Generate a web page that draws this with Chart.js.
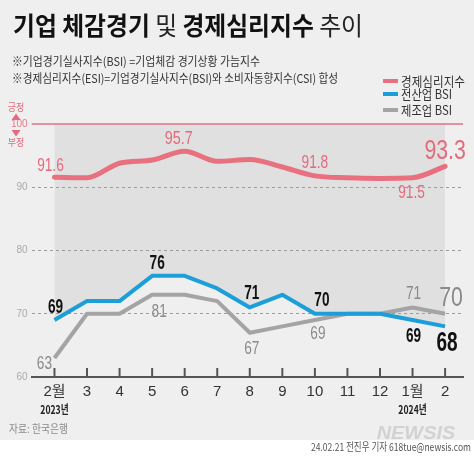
<!DOCTYPE html>
<html><head><meta charset="utf-8">
<script src="https://cdn.jsdelivr.net/npm/chart.js@4.4.1/dist/chart.umd.min.js"></script>
<style>
html,body{margin:0;padding:0;}
body{width:474px;height:456px;overflow:hidden;background:linear-gradient(#efefef 0,#efefef 440px,#ffffff 440px);}
#wrap{position:relative;width:474px;height:456px;}
canvas{display:block;}
</style></head><body>
<div id="wrap"><canvas id="c" width="474" height="456" style="width:474px;height:456px"></canvas></div>
<script>
// ---- data ----
const categories = ['2월','3','4','5','6','7','8','9','10','11','12','1월','2'];
const yearLabels = ['2023년','','','','','','','','','','','2024년',''];
const esi    = [91.6,91.5,93.8,94.3,95.7,94.1,94.4,93.2,91.8,91.5,91.4,91.5,93.3];
const allBsi = [69,72,72,76,76,74,71,73,70,70,70,69,68];
const mfgBsi = [63,70,70,73,73,72,67,68,69,70,70,71,70];
const esiLabels = ['91.6',null,null,null,'95.7',null,null,null,'91.8',null,null,'91.5','93.3'];
const allLabels = ['69',null,null,'76',null,null,'71',null,'70',null,null,'69','68'];
const mfgLabels = ['63',null,null,'81',null,null,'67',null,'69',null,null,'71','70'];
const yTicks = [60,70,80,90,100];
const seriesNames = ['경제심리지수','전산업 BSI','제조업 BSI'];

// ---- styles ----
const NUM = "'Liberation Sans',Arial,sans-serif";
const KR = "'Noto Sans CJK KR',sans-serif";
const TICKF = "'Liberation Sans','Noto Sans CJK KR',sans-serif";
const PINK = '#e8707f', BLUE = '#1c9fd9', GRAY = '#a4a4a4';
// per-label [dx, dy, fontSize]
const labelStyle = [
  {color:'#e46b7d', weight:'normal', sx:0.76, pos:{0:[-4,-11,18],4:[-6,-12,19],8:[0,-13,18],11:[-1,15,18],12:[0,-15,28]}},
  {color:'#111111', weight:'bold',   sx:0.68, pos:{0:[1,-13,20],3:[5,-12,20],6:[2,-14,20],8:[7,-13,20],11:[1,16,20],12:[2,17,28]}},
  {color:'#8a8a8a', weight:'normal', sx:0.76, pos:{0:[-10,6,18],3:[7,17,18],6:[2,16,18],8:[3,14,18],11:[1,-13,18],12:[6,-15,28]}}
];
const labelTexts = [esiLabels, allLabels, mfgLabels];

function txt(ctx, s, x, y, font, color, align, sx) {
  ctx.save();
  ctx.font = font; ctx.fillStyle = color; ctx.textBaseline = 'middle';
  ctx.textAlign = align || 'left';
  ctx.translate(x, y); ctx.scale(sx || 1, 1);
  ctx.fillText(s, 0, 0);
  ctx.restore();
}
function fitTxt(ctx, s, x, y, font, color, width) {
  ctx.save(); ctx.font = font; const w = ctx.measureText(s).width; ctx.restore();
  txt(ctx, s, x, y, font, color, 'left', width / w);
}

const decor = {
  id: 'decor',
  beforeDatasetsDraw(chart) {
    const ctx = chart.ctx, y = chart.scales.y, a = chart.chartArea;
    const py = y.getPixelForValue(100);
    ctx.save(); ctx.strokeStyle = PINK; ctx.lineWidth = 1.5;
    ctx.beginPath(); ctx.moveTo(a.left, py); ctx.lineTo(a.right, py); ctx.stroke();
    const x = chart.scales.x;
    ctx.strokeStyle = '#555'; ctx.lineWidth = 2;
    categories.forEach((c, i) => {
      const px = x.getPixelForValue(i);
      ctx.beginPath(); ctx.moveTo(px, a.bottom); ctx.lineTo(px, a.bottom - 9); ctx.stroke();
    });
    ctx.restore();
  },
  afterDatasetsDraw(chart) {
    const ctx = chart.ctx;
    labelTexts.forEach((arr, di) => {
      const meta = chart.getDatasetMeta(di), st = labelStyle[di];
      arr.forEach((s, i) => {
        if (!s) return;
        const p = st.pos[i] || [0, -12, 18];
        const pt = meta.data[i];
        txt(ctx, s, pt.x + p[0], pt.y + p[1], st.weight + ' ' + p[2] + 'px ' + NUM, st.color, 'center', st.sx);
      });
    });
  },
  afterDraw(chart) {
    const ctx = chart.ctx, x = chart.scales.x;
    const parts = [['기업 체감경기 ', 'bold'], ['및 ', 'normal'], ['경제심리지수 ', 'bold'], ['추이', 'normal']];
    ctx.save();
    let total = 0;
    parts.forEach(p => { ctx.font = p[1] + ' 25px ' + KR; total += ctx.measureText(p[0]).width; });
    ctx.restore();
    const sx = 350 / total;
    let cx = 13;
    parts.forEach(p => {
      ctx.save(); ctx.font = p[1] + ' 25px ' + KR; const w = ctx.measureText(p[0]).width; ctx.restore();
      txt(ctx, p[0], cx, 25, p[1] + ' 25px ' + KR, p[1] === 'bold' ? '#111' : '#222', 'left', sx);
      cx += w * sx;
    });
    fitTxt(ctx, '※기업경기실사지수(BSI) =기업체감 경기상황 가늠지수', 12, 61, '12px ' + KR, '#333', 248);
    fitTxt(ctx, '※경제심리지수(ESI)=기업경기실사지수(BSI)와 소비자동향지수(CSI) 합성', 12, 78, '12px ' + KR, '#333', 326);
    const cols = [PINK, BLUE, GRAY], ly = [81, 94, 110];
    seriesNames.forEach((n, i) => {
      ctx.save(); ctx.strokeStyle = cols[i]; ctx.lineWidth = 4; ctx.lineCap = 'butt';
      ctx.beginPath(); ctx.moveTo(383, ly[i]); ctx.lineTo(398, ly[i]); ctx.stroke(); ctx.restore();
      fitTxt(ctx, n, 401, ly[i], '13px ' + KR, '#333', i === 0 ? 64 : 51);
    });
    txt(ctx, '긍정', 16, 107, '10px ' + KR, '#e46b7d', 'center', 0.9);
    txt(ctx, '▲', 16, 117, '8px ' + KR, '#e46b7d', 'center', 1.2);
    txt(ctx, '▼', 16, 133, '8px ' + KR, '#e46b7d', 'center', 1.2);
    txt(ctx, '부정', 16, 142, '10px ' + KR, '#e46b7d', 'center', 0.9);
    yearLabels.forEach((s, i) => {
      if (!s) return;
      txt(ctx, s, x.getPixelForValue(i), 409, 'bold 12px ' + KR, '#222', 'center', 0.72);
    });
    fitTxt(ctx, '자료: 한국은행', 9, 429, '11px ' + KR, '#8a8a8a', 59);
    txt(ctx, 'NEWSIS', 416, 434, 'italic bold 19px ' + NUM, 'rgba(200,200,200,0.75)', 'center', 1.05);
    fitTxt(ctx, '24.02.21 전진우 기자 618tue@newsis.com', 311, 447, '11px ' + KR, '#555', 160);
  }
};

const toXY = arr => arr.map((v, i) => ({x: i, y: v}));

new Chart(document.getElementById('c'), {
  type: 'line',
  data: {
    datasets: [
      {label: seriesNames[0], data: toXY(esi), borderColor: PINK, borderWidth: 5, pointRadius: 0,
       cubicInterpolationMode: 'monotone', tension: 0.3, fill: false, borderJoinStyle: 'round', borderCapStyle: 'round'},
      {label: seriesNames[1], data: toXY(allBsi), borderColor: BLUE, borderWidth: 4, pointRadius: 0,
       fill: {value: 100}, backgroundColor: '#e0e0e0', borderJoinStyle: 'round'},
      {label: seriesNames[2], data: toXY(mfgBsi), borderColor: GRAY, borderWidth: 4, pointRadius: 0,
       fill: false, borderJoinStyle: 'round'}
    ]
  },
  options: {
    responsive: false, animation: false, devicePixelRatio: 1,
    layout: {padding: {left: 7, right: 11, top: 124, bottom: 49}},
    plugins: {legend: {display: false}, tooltip: {enabled: false}, filler: {drawTime: 'beforeDraw'}},
    scales: {
      x: {
        type: 'linear', min: -0.7, max: 12.55,
        afterBuildTicks: s => { s.ticks = categories.map((c, i) => ({value: i})); },
        ticks: {callback: v => categories[v], font: {family: TICKF, size: 15}, color: '#333', padding: 6, maxRotation: 0, autoSkip: false},
        grid: {display: true, drawOnChartArea: false, drawTicks: false},
        border: {display: true, color: '#555', width: 2}
      },
      y: {
        min: 60, max: 100,
        afterBuildTicks: s => { s.ticks = yTicks.map(v => ({value: v})); },
        ticks: {font: {family: NUM, size: 10}, color: c => c.tick.value === 100 ? '#e8798a' : '#aaaaaa', padding: 4},
        grid: {color: c => (c.tick.value === 100 || c.tick.value === 60) ? 'rgba(0,0,0,0)' : '#9c9c9c', lineWidth: 1, drawTicks: false},
        border: {display: false, dash: [3, 3]}
      }
    }
  },
  plugins: [decor]
});
</script>
</body></html>
